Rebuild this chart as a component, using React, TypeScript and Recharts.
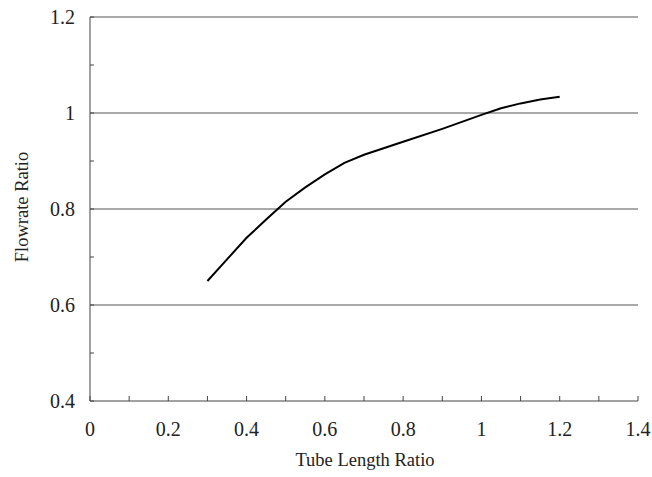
import { LineChart, Line, XAxis, YAxis, ReferenceLine, Label } from "recharts"

const lengthRatio = [0.3, 0.35, 0.4, 0.45, 0.5, 0.55, 0.6, 0.65, 0.7, 0.8, 0.9, 1.0, 1.05, 1.1, 1.15, 1.2]
const flowrateRatio = [0.65, 0.695, 0.74, 0.778, 0.815, 0.845, 0.872, 0.896, 0.913, 0.94, 0.967, 0.996, 1.01, 1.02, 1.028, 1.034]

const xTicks = [0, 0.1, 0.2, 0.3, 0.4, 0.5, 0.6, 0.7, 0.8, 0.9, 1.0, 1.1, 1.2, 1.3, 1.4]
const xLabels = ["0", "", "0.2", "", "0.4", "", "0.6", "", "0.8", "", "1", "", "1.2", "", "1.4"]
const yTicks = [0.4, 0.5, 0.6, 0.7, 0.8, 0.9, 1.0, 1.1, 1.2]
const yLabels = ["0.4", "", "0.6", "", "0.8", "", "1", "", "1.2"]
const gridValues = [0.6, 0.8, 1.0, 1.2]

const data = lengthRatio.map((x, i) => ({ x, y: flowrateRatio[i] }))

const font = "'Liberation Serif', 'DejaVu Serif', serif"
const axisColor = "#444"

function XTick({ x, y, index }: any) {
  return (
    <text x={x} y={y} dy={15} textAnchor="middle" fontFamily={font} fontSize={20} fill="#222">
      {xLabels[index]}
    </text>
  )
}

function YTick({ x, y, index }: any) {
  return (
    <text x={x} y={y} dy={7} textAnchor="end" fontFamily={font} fontSize={20} fill="#222">
      {yLabels[index]}
    </text>
  )
}

export default function App() {
  return (
    <div style={{ position: "absolute", left: 0, top: 0, background: "#fff" }}>
      <LineChart width={652} height={477} data={data} margin={{ top: 17, right: 14, left: 0, bottom: 0 }}>
        <XAxis
          dataKey="x"
          type="number"
          domain={[0, 1.4]}
          ticks={xTicks}
          interval={0}
          height={76}
          tickSize={-5}
          tickMargin={25}
          stroke={axisColor}
          tick={<XTick />}
        >
          <Label
            content={() => (
              <text x={365} y={466} textAnchor="middle" fontFamily={font} fontSize={18.5} fill="#222">
                Tube Length Ratio
              </text>
            )}
          />
        </XAxis>
        <YAxis
          type="number"
          domain={[0.4, 1.2]}
          ticks={yTicks}
          interval={0}
          width={90}
          tickSize={-4}
          tickMargin={19}
          stroke={axisColor}
          tick={<YTick />}
        >
          <Label
            content={() => (
              <text x={22} y={207} transform="rotate(-90 22 207)" dy={6} textAnchor="middle" fontFamily={font} fontSize={18.5} fill="#222">
                Flowrate Ratio
              </text>
            )}
          />
        </YAxis>
        {gridValues.map((v) => (
          <ReferenceLine key={v} y={v} stroke="#555" strokeWidth={1} />
        ))}
        <Line type="linear" dataKey="y" stroke="#000" strokeWidth={2} dot={false} isAnimationActive={false} />
      </LineChart>
    </div>
  )
}
